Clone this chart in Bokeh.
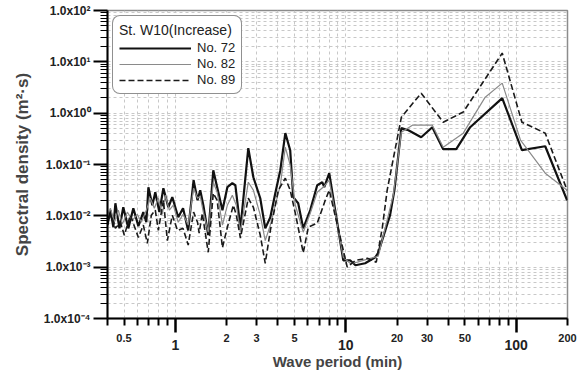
from bokeh.plotting import figure
from bokeh.models import FixedTicker, Legend, LegendItem, LogAxis
from bokeh.embed import file_html
from bokeh.resources import INLINE

# ---- data ----
period_72 = [0.40, 0.416, 0.433, 0.445, 0.470, 0.495, 0.530, 0.567, 0.607, 0.649, 0.676, 0.695, 0.733, 0.763,
             0.806, 0.851, 0.910, 0.960, 1.04, 1.11, 1.19, 1.28, 1.35, 1.40, 1.46, 1.56, 1.67, 1.76, 1.89, 2.02,
             2.16, 2.25, 2.41, 2.68, 2.87, 3.15, 3.37, 3.61, 3.86, 4.13, 4.42, 4.72, 4.92, 5.26, 5.63, 6.19, 6.80,
             7.28, 7.48, 8.00, 9.67, 10.6, 11.4, 13.0, 14.9, 15.5, 18.2, 19.3, 21.2, 23.3, 27.7, 32.2, 37.3, 44.5,
             53.7, 82.8, 108, 148, 199]
dens_72 = [0.0066, 0.0129, 0.0060, 0.0176, 0.0057, 0.0147, 0.0057, 0.0141, 0.0063, 0.0118, 0.0075, 0.0361, 0.0161,
           0.0288, 0.0118, 0.0345, 0.0147, 0.0231, 0.0094, 0.0141, 0.0052, 0.0494, 0.0201, 0.0316, 0.0161, 0.0042,
           0.0774, 0.0361, 0.0129, 0.0361, 0.0432, 0.0395, 0.0057, 0.208, 0.0565, 0.0220, 0.0057, 0.0094, 0.0276,
           0.0774, 0.408, 0.190, 0.0231, 0.0176, 0.0057, 0.0129, 0.0395, 0.0452, 0.0361, 0.0677, 0.00136, 0.00136,
           0.00109, 0.00119, 0.00156, 0.0019, 0.0103, 0.0316, 0.510, 0.466, 0.340, 0.533, 0.199, 0.199, 0.533,
           1.96, 0.190, 0.227, 0.0201]

period_82 = [0.40, 0.416, 0.439, 0.463, 0.489, 0.523, 0.560, 0.598, 0.632, 0.676, 0.713, 0.753, 0.795, 0.839,
             0.874, 0.922, 0.973, 1.04, 1.11, 1.19, 1.28, 1.35, 1.40, 1.46, 1.56, 1.67, 1.76, 1.89, 2.02, 2.16,
             2.28, 2.41, 2.68, 2.87, 3.15, 3.37, 3.61, 4.13, 4.42, 4.72, 5.06, 5.63, 6.19, 6.80, 7.48, 8.00, 9.67,
             10.6, 11.7, 13.4, 15.5, 19.0, 21.2, 24.6, 32.2, 37.3, 48.9, 65.8, 82.8, 106, 148, 199]
dens_82 = [0.0103, 0.0141, 0.0075, 0.0129, 0.0069, 0.0118, 0.0082, 0.0107, 0.0075, 0.0129, 0.0220, 0.0141, 0.0220,
           0.0107, 0.0252, 0.0129, 0.0161, 0.0075, 0.0107, 0.0066, 0.0345, 0.0220, 0.0241, 0.0118, 0.0048, 0.0452,
           0.0288, 0.0066, 0.0161, 0.0252, 0.0161, 0.0048, 0.0452, 0.0316, 0.0103, 0.0033, 0.0066, 0.0395, 0.217,
           0.0969, 0.0161, 0.0048, 0.0112, 0.0288, 0.0378, 0.0494, 0.00156, 0.00119, 0.00125, 0.00143, 0.00163,
           0.0252, 0.426, 0.584, 0.584, 0.217, 0.408, 2.05, 3.85, 0.298, 0.0677, 0.0316]

period_89 = [0.40, 0.421, 0.445, 0.476, 0.502, 0.545, 0.607, 0.649, 0.685, 0.723, 0.763, 0.795, 0.851, 0.898,
             0.960, 1.03, 1.11, 1.19, 1.28, 1.35, 1.38, 1.44, 1.56, 1.67, 1.76, 1.89, 2.02, 2.19, 2.28, 2.41, 2.68,
             2.87, 3.15, 3.37, 3.61, 4.02, 4.42, 4.72, 5.06, 5.63, 6.03, 6.80, 7.58, 8.00, 10.2, 11.4, 13.4, 15.1,
             16.4, 17.5, 21.2, 27.7, 37.3, 48.9, 82.8, 108, 148, 199]
dens_89 = [0.0082, 0.0103, 0.0057, 0.0075, 0.0042, 0.0103, 0.0038, 0.0066, 0.0029, 0.0103, 0.0129, 0.0052, 0.0201,
           0.0033, 0.0103, 0.0052, 0.0057, 0.0027, 0.0118, 0.0075, 0.0046, 0.0112, 0.00195, 0.0276, 0.0201, 0.0024,
           0.0060, 0.0161, 0.0103, 0.0037, 0.0220, 0.0147, 0.0042, 0.00119, 0.0052, 0.0316, 0.0541, 0.0316, 0.0112,
           0.0019, 0.0060, 0.0072, 0.0201, 0.0316, 0.00100, 0.00136, 0.00149, 0.00125, 0.0060, 0.0316, 0.835, 2.45,
           0.668, 1.05, 14.8, 0.668, 0.408, 0.0316]

series_names = ["No. 72", "No. 82", "No. 89"]
legend_title = "St. W10(Increase)"

# x ticks: decades (long ticks, big labels) and the in-between ticks (short, some labelled small)
x_decade_ticks = [1, 10, 100]
x_decade_texts = ["1", "10", "100"]
x_short_ticks = [0.4, 0.5, 0.6, 0.7, 0.8, 0.9, 2, 3, 4, 5, 6, 7, 8, 9,
                 20, 30, 40, 50, 60, 70, 80, 90, 200]
x_small_labels = {0.5: "0.5", 2: "2", 3: "3", 5: "5", 20: "20", 30: "30", 50: "50", 200: "200"}

y_major_ticks = [1e-4, 1e-3, 1e-2, 1e-1, 1.0, 10.0, 100.0]
y_major_texts = ["1.0x10\u207b\u2074", "1.0x10\u207b\u00b3", "1.0x10\u207b\u00b2", "1.0x10\u207b\u00b9",
                 "1.0x10\u2070", "1.0x10\u00b9", "1.0x10\u00b2"]
y_minor_ticks = [k * 10.0 ** e for e in range(-4, 2) for k in range(2, 10)]

FONT = "Liberation Sans"

p = figure(width=579, height=375, x_axis_type="log", y_axis_type="log",
           x_range=(0.4, 200), y_range=(1e-4, 1e2),
           output_backend="svg", toolbar_location=None,
           min_border_left=107, min_border_right=12, min_border_top=10, min_border_bottom=57)
p.background_fill_color = "white"
p.border_fill_color = "white"
p.outline_line_color = "#8c8c8c"
p.outline_line_width = 1.5

# grids
for g in (p.xgrid, p.ygrid):
    g.grid_line_color = "#c8c8c8"
    g.grid_line_dash = "3 3"
    g.grid_line_width = 1
    g.minor_grid_line_color = "#c8c8c8"
    g.minor_grid_line_dash = "3 3"
    g.minor_grid_line_width = 1

# x axis A (next to the frame): short ticks with small labels, long ticks at decades
xa = p.xaxis[0]
xa.ticker = FixedTicker(ticks=x_short_ticks, minor_ticks=x_decade_ticks)
xa.major_label_overrides = {t: x_small_labels.get(t, "") for t in x_short_ticks}
xa.axis_line_color = "black"
xa.axis_line_width = 2
xa.major_tick_line_width = 2
xa.major_tick_line_color = "black"
xa.minor_tick_line_width = 2.5
xa.minor_tick_line_color = "black"
xa.major_tick_in = 0
xa.major_tick_out = 7
xa.minor_tick_in = 0
xa.minor_tick_out = 14
xa.major_label_standoff = 1
xa.major_label_text_font = FONT
xa.major_label_text_font_style = "bold"
xa.major_label_text_font_size = "11px"
xa.major_label_text_color = "#222222"

# x axis B (below it): big decade labels and the axis title
xb = LogAxis(ticker=FixedTicker(ticks=x_decade_ticks, minor_ticks=[]))
xb.major_label_overrides = dict(zip(x_decade_ticks, x_decade_texts))
xb.axis_line_color = None
xb.major_tick_line_color = None
xb.minor_tick_line_color = None
xb.major_tick_in = 0
xb.major_tick_out = 0
xb.minor_tick_in = 0
xb.minor_tick_out = 0
xb.major_label_standoff = -5
xb.major_label_text_font = FONT
xb.major_label_text_font_style = "bold"
xb.major_label_text_font_size = "14px"
xb.major_label_text_color = "#222222"
xb.axis_label = "Wave period (min)"
xb.axis_label_text_font = FONT
xb.axis_label_text_font_style = "bold"
xb.axis_label_text_font_size = "15px"
xb.axis_label_standoff = 0
p.add_layout(xb, "below")

# y axis
ya = p.yaxis[0]
ya.ticker = FixedTicker(ticks=y_major_ticks, minor_ticks=y_minor_ticks)
ya.major_label_overrides = {t: s for t, s in zip(y_major_ticks, y_major_texts)}
ya.axis_line_color = "black"
ya.axis_line_width = 2
ya.major_tick_line_width = 2
ya.minor_tick_line_width = 1.2
ya.major_tick_in = 0
ya.major_tick_out = 14
ya.minor_tick_in = 0
ya.minor_tick_out = 7
ya.major_label_standoff = 3
ya.major_label_text_font = FONT
ya.major_label_text_font_style = "bold"
ya.major_label_text_font_size = "12px"
ya.major_label_text_color = "#222222"
ya.axis_label = "Spectral density (m\u00b2\u00b7s)"
ya.axis_label_text_font = FONT
ya.axis_label_text_font_style = "bold"
ya.axis_label_text_font_size = "17px"
ya.axis_label_standoff = 9

# lines
r72 = p.line(period_72, dens_72, line_color="#111111", line_width=2.2)
r82 = p.line(period_82, dens_82, line_color="#8a8a8a", line_width=1.2)
r89 = p.line(period_89, dens_89, line_color="#1a1a1a", line_width=1.6, line_dash="6 3")

legend = Legend(items=[LegendItem(label=series_names[0], renderers=[r72]),
                       LegendItem(label=series_names[1], renderers=[r82]),
                       LegendItem(label=series_names[2], renderers=[r89])],
                location="top_left", title=legend_title)
legend.margin = 5
legend.padding = 6
legend.spacing = 1
legend.glyph_width = 72
legend.glyph_height = 14
legend.label_standoff = 6
legend.label_height = 14
legend.label_text_font = FONT
legend.label_text_font_size = "13px"
legend.label_text_color = "#222222"
legend.title_text_font = FONT
legend.title_text_font_size = "14px"
legend.title_text_font_style = "normal"
legend.title_text_color = "#222222"
legend.title_standoff = 2
legend.border_line_color = "#222222"
legend.border_line_width = 1.5
legend.background_fill_color = "white"
legend.background_fill_alpha = 1.0
try:
    legend.border_radius = 8
except Exception:
    pass
p.add_layout(legend)

open("out.html", "w").write(file_html(p, INLINE))
